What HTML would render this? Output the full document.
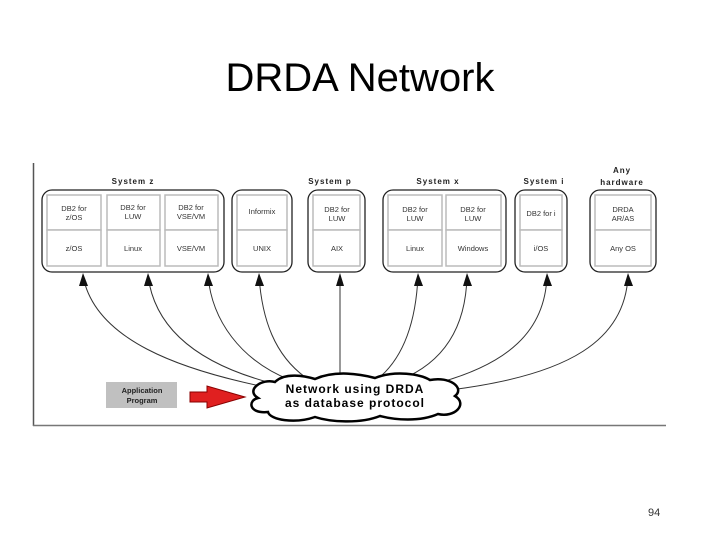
<!DOCTYPE html>
<html><head><style>
body{margin:0;width:720px;height:540px;background:#fff;overflow:hidden;position:relative;font-family:"Liberation Sans",sans-serif}
.t{position:absolute;left:0;width:720px;top:56px;text-align:center;font-size:40px;color:#000}
.n{position:absolute;left:648px;top:507px;font-size:11px;color:#333}
</style></head><body>
<div class="t">DRDA Network</div>
<div class="n">94</div>
<svg width="720" height="540" style="position:absolute;left:0;top:0" font-family="Liberation Sans,sans-serif">
<line x1="33.5" y1="163" x2="33.5" y2="426" stroke="#555" stroke-width="1.5"/>
<line x1="33" y1="425.5" x2="666" y2="425.5" stroke="#777" stroke-width="1.5"/>
<g fill="none" stroke="#222" stroke-width="1.3">
<rect x="42" y="190" width="182" height="82" rx="10"/>
<rect x="232" y="190" width="60" height="82" rx="10"/>
<rect x="308" y="190" width="57" height="82" rx="10"/>
<rect x="383" y="190" width="123" height="82" rx="10"/>
<rect x="515" y="190" width="52" height="82" rx="10"/>
<rect x="590" y="190" width="66" height="82" rx="10"/>
</g>
<g fill="#fff" stroke="#bbb" stroke-width="1.5">
<rect x="47" y="195" width="54" height="35"/><rect x="47" y="230" width="54" height="36"/>
<rect x="107" y="195" width="53" height="35"/><rect x="107" y="230" width="53" height="36"/>
<rect x="165" y="195" width="53" height="35"/><rect x="165" y="230" width="53" height="36"/>
<rect x="237" y="195" width="50" height="35"/><rect x="237" y="230" width="50" height="36"/>
<rect x="313" y="195" width="47" height="35"/><rect x="313" y="230" width="47" height="36"/>
<rect x="388" y="195" width="54" height="35"/><rect x="388" y="230" width="54" height="36"/>
<rect x="446" y="195" width="55" height="35"/><rect x="446" y="230" width="55" height="36"/>
<rect x="520" y="195" width="42" height="35"/><rect x="520" y="230" width="42" height="36"/>
<rect x="595" y="195" width="56" height="35"/><rect x="595" y="230" width="56" height="36"/>
</g>
<g font-size="7.5" fill="#333" text-anchor="middle">
<text x="74" y="211">DB2 for</text><text x="74" y="220">z/OS</text><text x="74" y="251">z/OS</text>
<text x="133" y="210">DB2 for</text><text x="133" y="219">LUW</text><text x="133" y="251">Linux</text>
<text x="191" y="210">DB2 for</text><text x="191" y="219">VSE/VM</text><text x="191" y="251">VSE/VM</text>
<text x="262" y="214">Informix</text><text x="262" y="251">UNIX</text>
<text x="337" y="212">DB2 for</text><text x="337" y="221">LUW</text><text x="337" y="251">AIX</text>
<text x="415" y="212">DB2 for</text><text x="415" y="221">LUW</text><text x="415" y="251">Linux</text>
<text x="473" y="212">DB2 for</text><text x="473" y="221">LUW</text><text x="473" y="251">Windows</text>
<text x="541" y="216">DB2 for i</text><text x="541" y="251">i/OS</text>
<text x="623" y="212">DRDA</text><text x="623" y="221">AR/AS</text><text x="623" y="251">Any OS</text>
</g>
<g font-size="8" font-weight="bold" fill="#222" text-anchor="middle" letter-spacing="1">
<text x="133" y="184">System z</text><text x="330" y="184">System p</text>
<text x="438" y="184">System x</text><text x="544" y="184">System i</text>
<text x="622" y="173">Any</text><text x="622" y="185">hardware</text>
</g>
<g fill="none" stroke="#333" stroke-width="1">
<path d="M270,388 C180,370 95,340 83,276"/>
<path d="M275,384 C200,365 155,330 148,276"/>
<path d="M290,380 C240,360 212,320 208,276"/>
<path d="M305,377 C275,355 262,320 259,276"/>
<path d="M340,375 L340,276"/>
<path d="M380,377 C405,355 416,320 418,276"/>
<path d="M400,380 C450,360 466,320 467,276"/>
<path d="M430,385 C510,365 545,330 547,276"/>
<path d="M450,390 C570,375 625,340 628,276"/>
</g>
<g fill="#111">
<polygon points="79,286 83,273 88,286"/><polygon points="144,286 148,273 153,286"/>
<polygon points="204,286 208,273 213,286"/><polygon points="255,286 259,273 264,286"/>
<polygon points="336,286 340,273 344,286"/><polygon points="414,286 418,273 423,286"/>
<polygon points="463,286 467,273 472,286"/><polygon points="543,286 547,273 552,286"/>
<polygon points="624,286 628,273 633,286"/>
</g>
<rect x="106" y="382" width="71" height="26" fill="#c0c0c0"/>
<text x="142" y="393" font-size="7.5" font-weight="bold" text-anchor="middle" fill="#222">Application</text>
<text x="142" y="403" font-size="7.5" font-weight="bold" text-anchor="middle" fill="#222">Program</text>
<polygon points="190,392 207,392 207,386 245,397 207,408 207,402 190,402" fill="#e02020" stroke="#800" stroke-width="1"/>
<path d="M258,398 C245,390 262,378 275,382 C285,372 305,376 315,379 C335,370 360,374 375,378 C395,370 420,374 430,380 C450,376 465,388 455,396 C468,404 455,418 438,414 C420,422 395,420 380,416 C360,424 330,422 315,417 C295,424 270,420 268,412 C248,414 248,400 258,398 Z" fill="#fff" stroke="#000" stroke-width="2.5"/>
<text x="355" y="393" font-size="12" font-weight="bold" text-anchor="middle" letter-spacing="1">Network using DRDA</text>
<text x="355" y="407" font-size="12" font-weight="bold" text-anchor="middle" letter-spacing="1">as database protocol</text>
</svg>
</body></html>
